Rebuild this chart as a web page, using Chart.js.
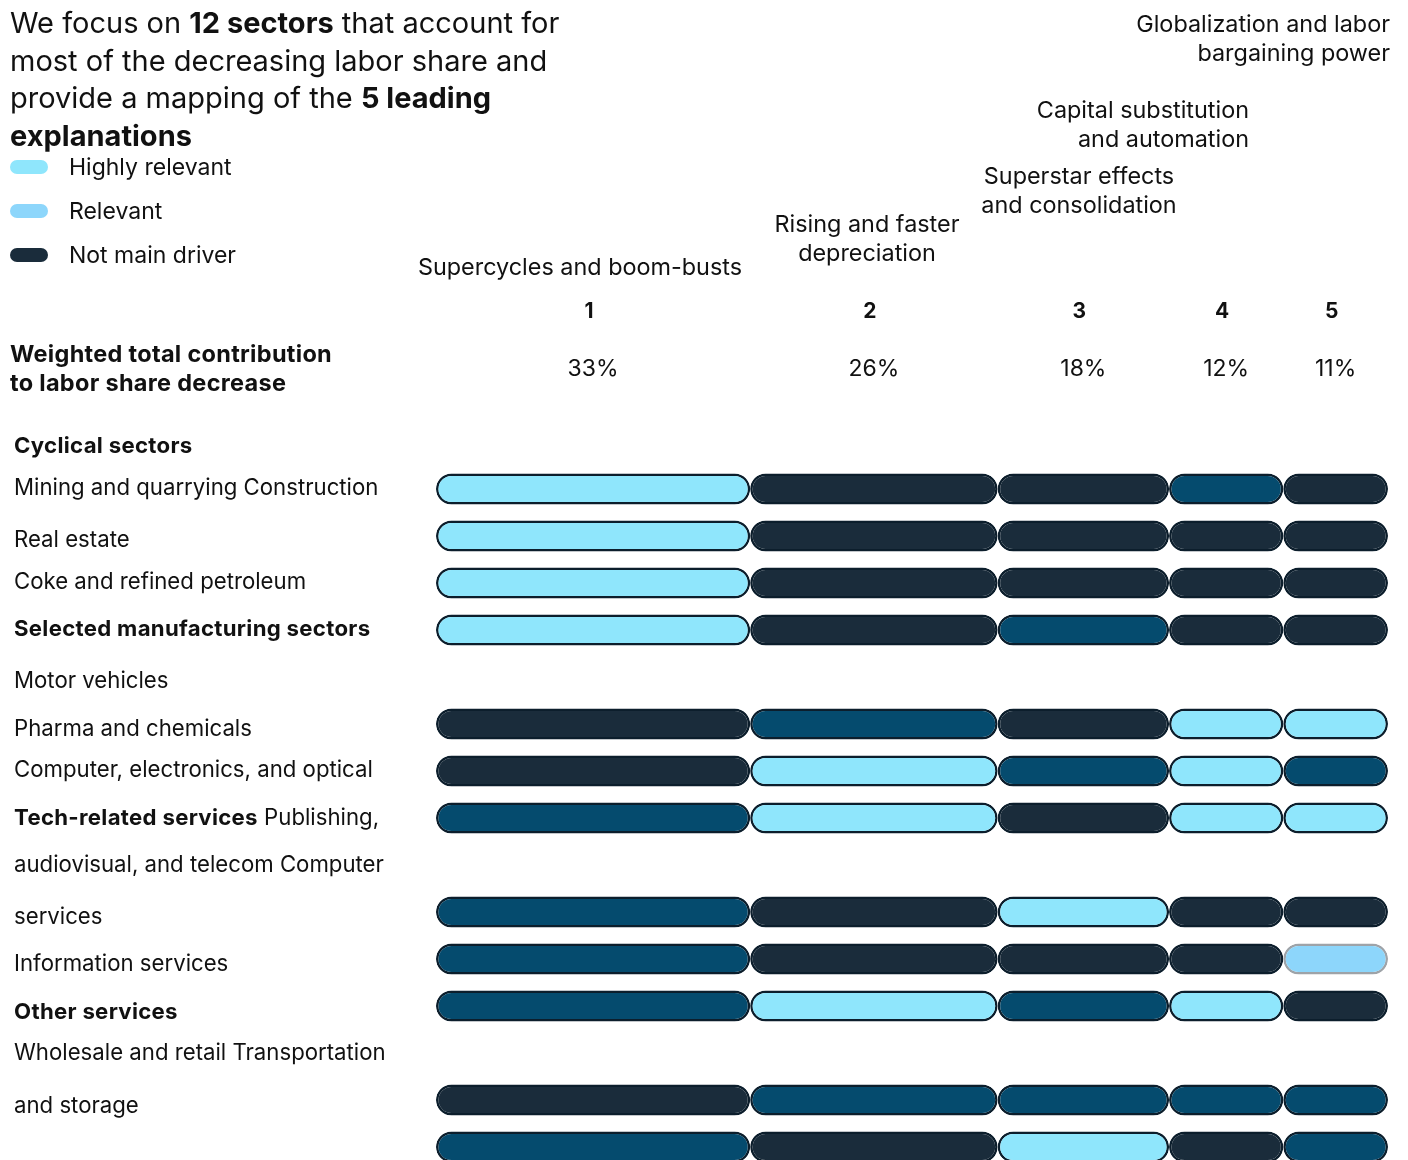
<!DOCTYPE html>
<html>
<head>
<meta charset="utf-8">
<script src="https://cdn.jsdelivr.net/npm/chart.js@4.4.1/dist/chart.umd.min.js"></script>
<style>
  html, body { margin: 0; padding: 0; background: #ffffff; }
  body { width: 1408px; height: 1160px; position: relative; overflow: hidden;
         font-family: Inter, "Liberation Sans", Arial, sans-serif; color: #111; }
  #wrap { position: absolute; left: 0; top: 0; width: 1408px; height: 1160px; }
  .t { position: absolute; white-space: nowrap; }
  .title { left: 10px; top: 4px; font-size: 29px; line-height: 37.5px; }
  .title b { font-weight: 700; }
  .lab { font-size: 22.2px; line-height: 30px; height: 30px; }
  .bold { font-weight: 700; letter-spacing: 0.3px; }
  .hdr { font-size: 23.4px; line-height: 29px; }
  .leg { font-size: 23px; line-height: 30px; height: 30px; }
  .leg-ico { position: absolute; width: 38px; height: 14px; border-radius: 7px; }
</style>
</head>
<body>
<div id="wrap"><canvas id="c" width="1408" height="1160"></canvas></div>
<div id="text"></div>
<script>
// Explanations, in column order, with their weighted contribution (%)
const explanations = [
  "Supercycles and boom-busts",
  "Rising and faster depreciation",
  "Superstar effects and consolidation",
  "Capital substitution and automation",
  "Globalization and labor bargaining power"
];
const weights = [33, 26, 18, 12, 11];

// Sectors drawn as rows, and the row slot each one sits in
const sectors = [
  "Mining and quarrying", "Construction", "Real estate", "Coke and refined petroleum",
  "Motor vehicles", "Pharma and chemicals", "Computer, electronics, and optical",
  "Publishing, audiovisual, and telecom", "Computer services", "Information services",
  "Wholesale and retail", "Transportation and storage"
];
const rowSlots = [0, 1, 2, 3, 5, 6, 7, 9, 10, 11, 13, 14];

// Relevance of each explanation per sector: H highly relevant, R relevant,
// M moderate, N not main driver
const relevance = [
  ["H", "N", "N", "M", "N"],
  ["H", "N", "N", "N", "N"],
  ["H", "N", "N", "N", "N"],
  ["H", "N", "M", "N", "N"],
  ["N", "M", "N", "H", "H"],
  ["N", "H", "M", "H", "M"],
  ["M", "H", "N", "H", "H"],
  ["M", "N", "H", "N", "N"],
  ["M", "N", "N", "N", "R"],
  ["M", "H", "M", "H", "N"],
  ["N", "M", "M", "M", "M"],
  ["M", "N", "H", "N", "M"]
];

const legendKeys = ["H", "R", "N"];
const legendLabels = ["Highly relevant", "Relevant", "Not main driver"];

const fillColors = { H: "#8fe6fc", R: "#8dd6fb", M: "#054b6e", N: "#1a2c3b" };
const edgeColors = { H: "#0c1e2c", R: "#9ea3a8", M: "#0c1e2c", N: "#0c1e2c" };

// Left-hand text column
const leftLines = [
  { y: 445, html: "<span class='bold'>Cyclical sectors</span>" },
  { y: 487, html: "Mining and quarrying Construction" },
  { y: 539, html: "Real estate" },
  { y: 581, html: "Coke and refined petroleum" },
  { y: 628, html: "<span class='bold'>Selected manufacturing sectors</span>" },
  { y: 680, html: "Motor vehicles" },
  { y: 728, html: "Pharma and chemicals" },
  { y: 769, html: "Computer, electronics, and optical" },
  { y: 817, html: "<span class='bold'>Tech-related services</span> Publishing," },
  { y: 864, html: "audiovisual, and telecom Computer" },
  { y: 916, html: "services" },
  { y: 963, html: "Information services" },
  { y: 1011, html: "<span class='bold'>Other services</span>" },
  { y: 1052, html: "Wholesale and retail Transportation" },
  { y: 1105, html: "and storage" }
];

const textLayer = document.getElementById("text");
function addText(cls, style, html) {
  const d = document.createElement("div");
  d.className = "t " + cls;
  d.setAttribute("style", style);
  d.innerHTML = html;
  textLayer.appendChild(d);
  return d;
}

addText("title", "", "We focus on <b>12 sectors</b> that account for<br>most of the decreasing labor share and<br>provide a mapping of the <b>5 leading</b><br><b>explanations</b>");

legendKeys.forEach((k, i) => {
  const cy = 167 + i * 44;
  const ico = document.createElement("div");
  ico.className = "leg-ico";
  ico.style.left = "10px";
  ico.style.top = (cy - 7) + "px";
  ico.style.background = fillColors[k];
  textLayer.appendChild(ico);
  addText("leg", "left:69px;top:" + (cy - 15) + "px;", legendLabels[i]);
});

addText("lab bold", "left:10px;top:339px;line-height:29px;height:auto;font-size:23.5px;", "Weighted total contribution<br>to labor share decrease");
leftLines.forEach(l => addText("lab", "left:14px;top:" + (l.y - 15) + "px;", l.html));

// Explanation titles above the columns
addText("hdr", "right:18px;top:9px;text-align:right;", "Globalization and labor<br>bargaining power");
addText("hdr", "right:159px;top:95px;text-align:right;", "Capital substitution<br>and automation");
addText("hdr", "left:959px;width:240px;top:161px;text-align:center;", "Superstar effects<br>and consolidation");
addText("hdr", "left:747px;width:240px;top:209px;text-align:center;", "Rising and faster<br>depreciation");
addText("hdr", "left:380px;width:400px;top:252px;text-align:center;", "Supercycles and boom-busts");

// One dataset per explanation, stacked along x
const datasets = weights.map((w, j) => ({
  label: explanations[j],
  data: relevance.map((r, i) => ({ x: w, y: rowSlots[i] })),
  backgroundColor: relevance.map(r => fillColors[r[j]]),
  borderColor: relevance.map(r => edgeColors[r[j]]),
  borderWidth: 2.5,
  borderSkipped: false,
  borderRadius: { topLeft: 15.5, topRight: 15.5, bottomLeft: 15.5, bottomRight: 15.5 },
  inflateAmount: 0,
  barThickness: 31
}));

// Column numbers and weights drawn from the x scale
const columnHeads = {
  id: "columnHeads",
  afterDraw(chart) {
    const ctx = chart.ctx;
    const xs = chart.scales.x;
    let start = 0;
    ctx.save();
    ctx.fillStyle = "#111";
    ctx.textAlign = "center";
    ctx.textBaseline = "middle";
    weights.forEach((w, j) => {
      const cx = xs.getPixelForValue(start + w / 2);
      ctx.font = "700 21px Inter, 'Liberation Sans', Arial, sans-serif";
      ctx.fillText(String(j + 1), cx - 4, 312);
      ctx.font = "400 23px Inter, 'Liberation Sans', Arial, sans-serif";
      ctx.fillText(w + "%", cx, 369);
      start += w;
    });
    ctx.restore();
  }
};

new Chart(document.getElementById("c"), {
  type: "bar",
  data: { datasets },
  options: {
    indexAxis: "y",
    responsive: false,
    animation: false,
    layout: { padding: { left: 436, right: 20, top: 465.5, bottom: 0 } },
    plugins: { legend: { display: false }, tooltip: { enabled: false } },
    scales: {
      x: { type: "linear", stacked: true, min: 0, max: 100, display: false, offset: false },
      y: { type: "linear", stacked: true, reverse: true, min: -0.5, max: 14.277,
           display: false, offset: false, grace: 0 }
    }
  },
  plugins: [columnHeads]
});
</script>
</body>
</html>
